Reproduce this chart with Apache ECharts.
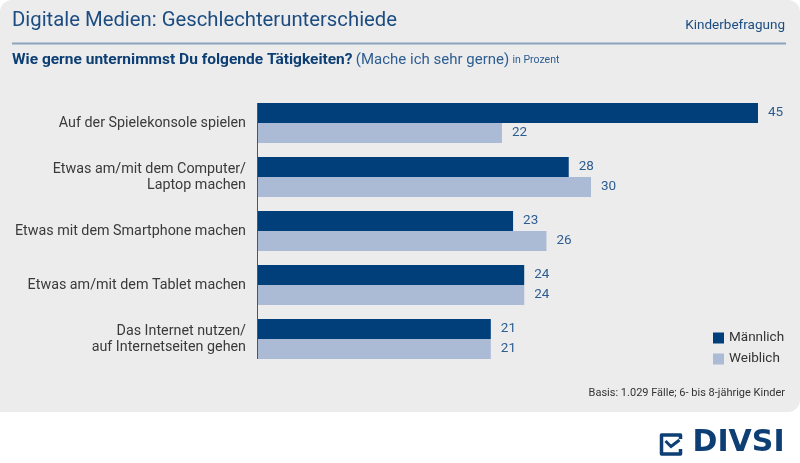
<!DOCTYPE html>
<html style="height: 100%">
<head>
    <meta charset="utf-8">
    <script src="https://cdn.jsdelivr.net/npm/echarts@6/dist/echarts.min.js"></script>
</head>
<body style="height: 100%; margin: 0; background: #ffffff">
<div id="chart_container" style="width: 800px; height: 463px"></div>
<script type="text/javascript">

    var categories = [
        'Auf der Spielekonsole spielen',
        'Etwas am/mit dem Computer/\nLaptop machen',
        'Etwas mit dem Smartphone machen',
        'Etwas am/mit dem Tablet machen',
        'Das Internet nutzen/\nauf Internetseiten gehen'
    ];
    var seriesNames = ['Männlich', 'Weiblich'];
    var maleValues = [45, 28, 23, 24, 21];
    var femaleValues = [22, 30, 26, 24, 21];

    var fontFamily = 'Roboto, "Noto Sans", sans-serif';
    var blue = '#1c4c80';

    var chart = echarts.init(document.getElementById('chart_container'));

    var labelOption = {
        show: true,
        position: 'right',
        distance: 10,
        color: '#2d5d91',
        fontSize: 13.5,
        fontFamily: fontFamily
    };

    var option = {
        animation: false,
        color: ['#003f7a', '#abbad5'],
        graphic: [
            {
                type: 'rect', z: -10,
                shape: {x: 0, y: 0, width: 800, height: 412, r: [12, 12, 12, 0]},
                style: {fill: '#ececec'}
            },
            {
                type: 'text', left: 12, top: 11,
                style: {text: 'Digitale Medien: Geschlechterunterschiede', fill: blue, font: '20.3px ' + fontFamily}
            },
            {
                type: 'text', right: 15, top: 19,
                style: {text: 'Kinderbefragung', fill: blue, font: '13.5px ' + fontFamily}
            },
            {
                type: 'line',
                shape: {x1: 12, y1: 43.5, x2: 786, y2: 43.5},
                style: {stroke: '#8ca3bd', lineWidth: 2}
            },
            {
                type: 'text', left: 12, top: 52,
                style: {
                    text: '{b|Wie gerne unternimmst Du folgende Tätigkeiten?} {n|(Mache ich sehr gerne)} {s|in Prozent}',
                    rich: {
                        b: {fill: '#0d3f74', fontSize: 15.5, fontWeight: 'bold', fontFamily: fontFamily},
                        n: {fill: '#2d5d91', fontSize: 15, fontFamily: fontFamily},
                        s: {fill: '#2d5d91', fontSize: 10.5, fontFamily: fontFamily}
                    }
                }
            },
            {
                type: 'text', right: 15, top: 388,
                style: {text: 'Basis: 1.029 Fälle; 6- bis 8-jährige Kinder', fill: '#333333', font: '11px ' + fontFamily}
            },
            {
                type: 'group', left: 659, top: 428,
                children: [
                    {
                        type: 'polyline',
                        shape: {points: [[21, 6], [21, 2], [2, 2], [2, 21], [21, 21], [21, 16]]},
                        style: {stroke: '#0d3f74', lineWidth: 3.5, fill: 'none', lineJoin: 'round'}
                    },
                    {
                        type: 'polyline',
                        shape: {points: [[6, 8], [11.5, 13.5], [20, 7]]},
                        style: {stroke: '#0d3f74', lineWidth: 3, fill: 'none'}
                    },
                    {
                        type: 'text', x: 33, y: -5,
                        style: {text: 'DIVSI', fill: '#0d3f74', font: 'bold 30px "DejaVu Sans", sans-serif'}
                    }
                ]
            }
        ],
        legend: {
            orient: 'vertical',
            left: 708,
            top: 326,
            itemWidth: 11,
            itemHeight: 11,
            itemGap: 7,
            icon: 'rect',
            textStyle: {color: '#333333', fontSize: 13.5, fontFamily: fontFamily},
            data: seriesNames
        },
        grid: {
            left: 257,
            right: 42,
            top: 96,
            bottom: 97,
            containLabel: false
        },
        xAxis: {
            type: 'value',
            min: 0,
            max: 45,
            show: false
        },
        yAxis: {
            type: 'category',
            inverse: true,
            data: categories,
            axisLine: {show: false},
            axisTick: {show: false},
            axisLabel: {
                margin: 11,
                color: '#3a3a3a',
                fontSize: 14.3,
                lineHeight: 16,
                fontFamily: fontFamily
            }
        },
        series: [
            {
                name: seriesNames[0],
                type: 'bar',
                barWidth: 20,
                barGap: 0,
                label: labelOption,
                data: maleValues
            },
            {
                name: seriesNames[1],
                type: 'bar',
                barWidth: 20,
                barGap: 0,
                label: labelOption,
                data: femaleValues
            }
        ]
    };

    chart.setOption(option);

    // vertical axis line from the top of the first bar to the bottom of the last one
    var firstY = chart.convertToPixel({yAxisIndex: 0}, categories[0]);
    var lastY = chart.convertToPixel({yAxisIndex: 0}, categories[categories.length - 1]);
    var axisX = chart.convertToPixel({xAxisIndex: 0}, 0);
    option.graphic.push({
        type: 'line', z: 10,
        shape: {x1: axisX + 0.5, y1: firstY - 20, x2: axisX + 0.5, y2: lastY + 20},
        style: {stroke: '#555555', lineWidth: 1}
    });
    chart.setOption({graphic: option.graphic});
</script>
</body>
</html>
